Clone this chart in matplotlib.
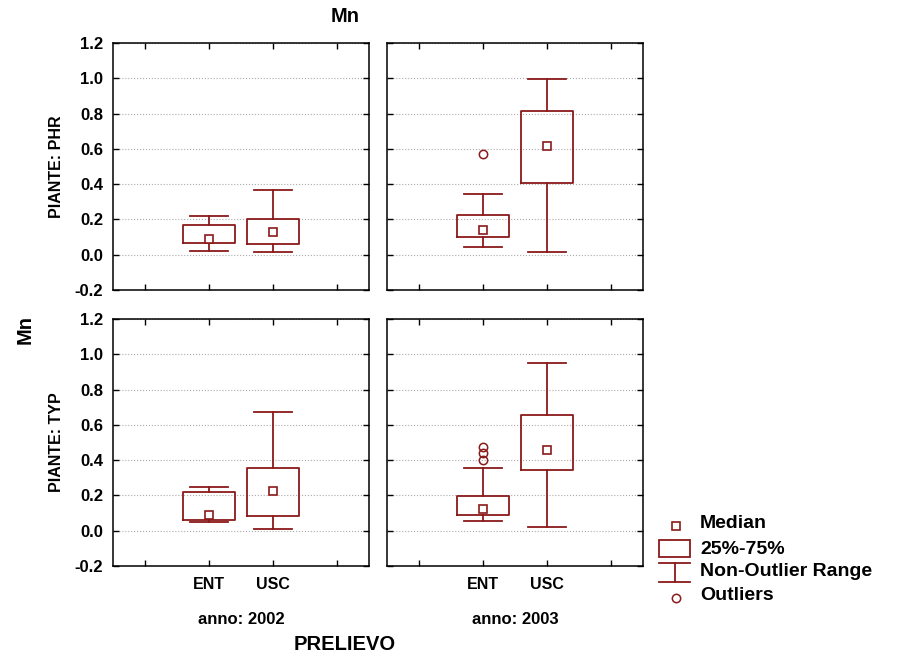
import matplotlib
matplotlib.use("Agg")
import matplotlib.pyplot as plt
from matplotlib.patches import Rectangle
from matplotlib.lines import Line2D

plt.rcParams['font.family'] = ['Liberation Sans', 'DejaVu Sans']
plt.rcParams['font.weight'] = 'bold'

# categories
groups = ['ENT', 'USC']
years = ['anno: 2002', 'anno: 2003']
plants = ['PIANTE: PHR', 'PIANTE: TYP']
legend_labels = ['Median', '25%-75%', 'Non-Outlier Range', 'Outliers']

# values indexed [plant][year][group]
q1 = [[[0.065, 0.058], [0.102, 0.405]],
      [[0.060, 0.083], [0.090, 0.342]]]
q3 = [[[0.168, 0.200], [0.225, 0.816]],
      [[0.220, 0.356], [0.198, 0.658]]]
med = [[[0.089, 0.130], [0.138, 0.616]],
       [[0.090, 0.223], [0.121, 0.460]]]
whislo = [[[0.023, 0.015], [0.042, 0.015]],
          [[0.047, 0.011], [0.055, 0.019]]]
whishi = [[[0.218, 0.367], [0.346, 0.995]],
          [[0.249, 0.673], [0.356, 0.950]]]
fliers = [[[[], []], [[0.572], []]],
          [[[], []], [[0.475, 0.440, 0.400], []]]]

red = '#8b1a1a'
W, H = 898, 657

fig = plt.figure(figsize=(W / 100, H / 100), dpi=100)

lefts = [113, 387]
tops = [43, 319]
pw, ph = 256, 247

for r in range(2):
    for c in range(2):
        ax = fig.add_axes([lefts[c] / W, 1 - (tops[r] + ph) / H, pw / W, ph / H])
        stats = []
        for g in range(2):
            stats.append(dict(med=med[r][c][g], q1=q1[r][c][g], q3=q3[r][c][g],
                              whislo=whislo[r][c][g], whishi=whishi[r][c][g],
                              fliers=fliers[r][c][g]))
        ax.bxp(stats, positions=[0, 1], widths=0.8, showfliers=True,
               boxprops=dict(color=red, lw=1.3),
               whiskerprops=dict(color=red, lw=1.3),
               capprops=dict(color=red, lw=1.3),
               capwidths=0.6,
               medianprops=dict(linestyle='none'),
               flierprops=dict(marker='o', ms=6, mfc='none', mec=red, mew=1.1))
        ax.plot([0, 1], med[r][c], 's', ms=6, mfc='white', mec=red, mew=1.2,
                linestyle='none')
        ax.set_xlim(-1.5, 2.5)
        ax.set_ylim(-0.2, 1.2)
        ax.set_yticks([-0.2, 0.0, 0.2, 0.4, 0.6, 0.8, 1.0, 1.2])
        ax.set_xticks([-1, 0, 1, 2])
        ax.yaxis.grid(True, linestyle=':', color='#aaaaaa', lw=0.8)
        ax.set_axisbelow(True)
        ax.tick_params(direction='in', top=True, right=True, length=4,
                       width=1.0, labelsize=12)
        ax.tick_params(axis='y', pad=7)
        for s in ax.spines.values():
            s.set_linewidth(1.1)
        if r == 1:
            ax.set_xticklabels([''] + groups + [''], fontweight='bold')
            ax.tick_params(axis='x', pad=8, labelsize=11.5)
        else:
            ax.set_xticklabels([])
        if c == 0:
            ax.set_yticklabels(['%.1f' % v for v in ax.get_yticks()],
                               fontweight='bold')
            ax.set_ylabel(plants[r], fontsize=11.5, fontweight='bold', labelpad=8)
        else:
            ax.set_yticklabels([])
        if r == 1:
            fig.text((lefts[c] + pw / 2) / W, 1 - 619 / H, years[c],
                     ha='center', va='center', fontsize=12, fontweight='bold')

fig.text(345 / W, 1 - 16 / H, 'Mn', ha='center', va='center',
         fontsize=14.5, fontweight='bold')
fig.text(345 / W, 1 - 645 / H, 'PRELIEVO', ha='center', va='center',
         fontsize=14.5, fontweight='bold')
fig.text(25 / W, 1 - 330 / H, 'Mn', ha='center', va='center', rotation=90,
         fontsize=14.5, fontweight='bold')

# legend drawn in figure coordinates
def fx(x):
    return x / W

def fy(y):
    return 1 - y / H

fig.add_artist(Line2D([fx(676)], [fy(526)], marker='s', ms=6, mfc='white',
                      mec=red, mew=1.2, linestyle='none'))
fig.add_artist(Rectangle((fx(659), fy(556.5)), 31 / W, 16.5 / H, fill=False,
                         ec=red, lw=1.3, transform=fig.transFigure))
fig.add_artist(Line2D([fx(659), fx(690)], [fy(562.5), fy(562.5)], color=red, lw=1.3))
fig.add_artist(Line2D([fx(659), fx(690)], [fy(581.5), fy(581.5)], color=red, lw=1.3))
fig.add_artist(Line2D([fx(675), fx(675)], [fy(562.5), fy(581.5)], color=red, lw=1.3))
fig.add_artist(Line2D([fx(676)], [fy(597.5)], marker='o', ms=6, mfc='none',
                      mec=red, mew=1.1, linestyle='none'))
for lab, y in zip(legend_labels, [524, 549, 572, 595]):
    fig.text(fx(700), fy(y), lab, ha='left', va='center', fontsize=14,
             fontweight='bold')

fig.savefig('out.png', dpi=100)
